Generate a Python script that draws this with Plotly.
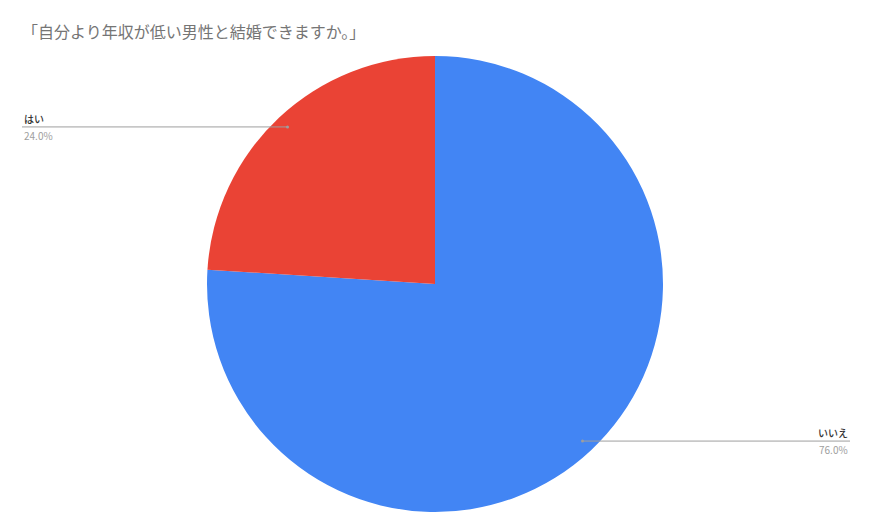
import math
import plotly.graph_objects as go

labels = ["はい", "いいえ"]
values = [24.0, 76.0]
colors = ["#EA4335", "#4285F4"]
title_text = "「自分より年収が低い男性と結婚できますか。」"

W, H = 870, 532
cx, cy, R = 435, 284, 228  # pie geometry in pixels
FONT = "Noto Sans CJK JP"

# Plot order: drawn clockwise from 12 o'clock, "いいえ" first so "はい" ends at 12 o'clock
order = [1, 0]
fig = go.Figure(go.Pie(
    labels=[labels[i] for i in order], values=[values[i] for i in order],
    sort=False, direction="clockwise", rotation=0,
    marker=dict(colors=[colors[i] for i in order], line=dict(width=0)),
    textinfo="none", hoverinfo="skip", showlegend=False,
    domain=dict(x=[(cx - R) / W, (cx + R) / W], y=[1 - (cy + R) / H, 1 - (cy - R) / H]),
))

shapes, annotations = [], []
total = sum(values)
start = 0.0
for i in order:
    lab, v = labels[i], values[i]
    frac = v / total
    mid = start + frac / 2  # fraction of turn, clockwise from top
    ang = 2 * math.pi * mid
    px = cx + 0.945 * R * math.sin(ang)
    py = cy - 0.945 * R * math.cos(ang)
    left = px < cx
    x_end = 22 if left else 850
    xp, yp = px / W, 1 - py / H
    xe = x_end / W
    shapes.append(dict(type="line", xref="paper", yref="paper", x0=xp, y0=yp, x1=xe, y1=yp,
                       line=dict(color="#9e9e9e", width=1)))
    shapes.append(dict(type="circle", xref="paper", yref="paper",
                       x0=(px - 1.5) / W, x1=(px + 1.5) / W, y0=1 - (py + 1.5) / H, y1=1 - (py - 1.5) / H,
                       line=dict(width=0), fillcolor="#9e9e9e"))
    anchor = "left" if left else "right"
    annotations.append(dict(x=xe, y=yp, xref="paper", yref="paper", text=lab,
                            showarrow=False, xanchor=anchor, yanchor="bottom", yshift=-1,
                            font=dict(family=FONT, size=10, color="#333333", weight=500)))
    annotations.append(dict(x=xe, y=yp, xref="paper", yref="paper", text=f"{v:.1f}%",
                            showarrow=False, xanchor=anchor, yanchor="top", yshift=1,
                            font=dict(family=FONT, size=10, color="#9e9e9e")))
    start += frac

annotations.append(dict(x=20 / W, y=1 - 31 / H, xref="paper", yref="paper", text=title_text,
                        showarrow=False, xanchor="left", yanchor="middle",
                        font=dict(family=FONT, size=16, color="#757575")))

fig.update_layout(width=W, height=H, margin=dict(l=0, r=0, t=0, b=0),
                  paper_bgcolor="white", plot_bgcolor="white",
                  shapes=shapes, annotations=annotations)
fig.write_html("out.html", config={"displayModeBar": False},
               post_script="document.body.style.margin='0';")
